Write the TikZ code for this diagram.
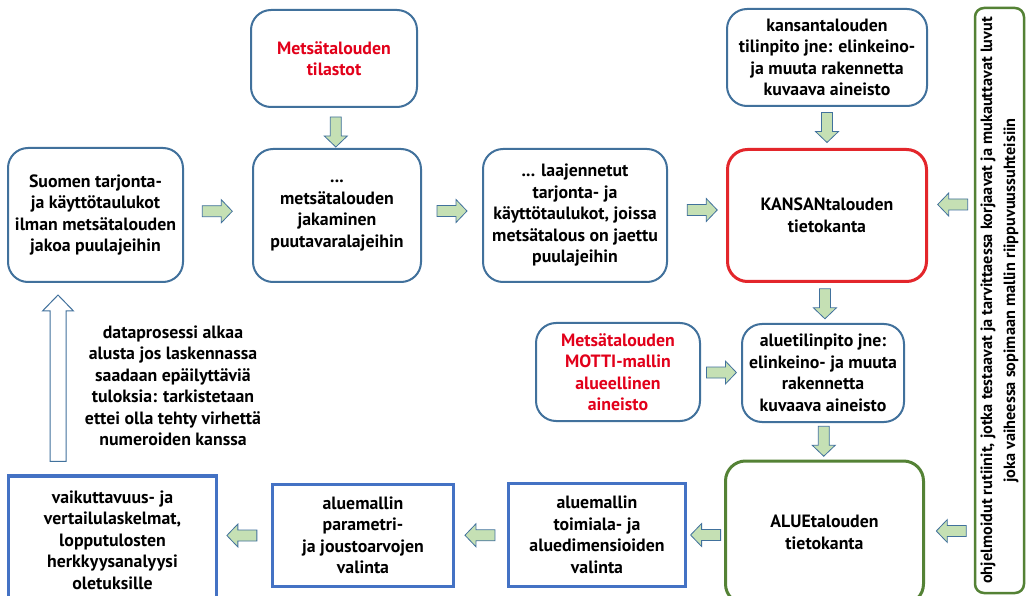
\documentclass[tikz,border=0pt]{standalone}
\usepackage{fontspec}
\setmainfont{PT Sans}
\usetikzlibrary{calc}
\definecolor{bblue}{HTML}{41719C}
\definecolor{sqblue}{HTML}{4472C4}
\definecolor{rred}{HTML}{E3262B}
\definecolor{rtext}{HTML}{E2001A}
\definecolor{ggreen}{HTML}{548235}
\definecolor{afill}{HTML}{C5E0B4}
\begin{document}
\begin{tikzpicture}[x=1pt,y=-1pt,
  font=\bfseries\fontsize{17.8}{21.5}\selectfont,
  rbox/.style={draw=bblue, line width=2pt, rounded corners=20pt, align=center, inner sep=0pt, fill=white},
  redbox/.style={rbox, draw=rred, line width=3pt},
  grbox/.style={rbox, draw=ggreen, line width=3pt},
  sqbox/.style={draw=sqblue, line width=3.4pt, align=center, inner sep=0pt, fill=white},
  redtext/.style={text=rtext},
  barrow/.pic={\draw[draw=bblue, fill=afill, line width=0.8pt, line join=miter]
     (-15,-5.5) -- (4,-5.5) -- (4,-11.5) -- (15,0) -- (4,11.5) -- (4,5.5) -- (-15,5.5) -- cycle;}
]
\useasboundingbox (0,0) rectangle (1029,596);
\clip (0,0) rectangle (1029,596);
\fill[white] (0,0) rectangle (1029,596);

% top row
\node[rbox, redtext, minimum width=166, minimum height=97] (tilastot) at (334,58.5) {Metsätalouden\\tilastot};
\node[rbox, minimum width=200, minimum height=97] (kansanai) at (827,57.5) {kansantalouden\\tilinpito jne: elinkeino-\\ja muuta rakennetta\\kuvaava aineisto};

% second row
\node[rbox, minimum width=175, minimum height=134] (suomen) at (95.5,215) {Suomen tarjonta-\\ja käyttötaulukot\\ilman metsätalouden\\jakoa puulajeihin};
\node[rbox, minimum width=168, minimum height=133] (jak) at (337,215.5) {...\\metsätalouden\\jakaminen\\puutavaralajeihin};
\node[rbox, minimum width=184, minimum height=133] (laaj) at (575,215.5) {... laajennetut\\tarjonta- ja\\käyttötaulukot, joissa\\metsätalous on jaettu\\puulajeihin};
\node[redbox, minimum width=199, minimum height=132] (kansan) at (827,215.5) {KANSANtalouden\\tietokanta};

% vertical box
\node[rbox, draw=ggreen, line width=2.5pt, rounded corners=9pt, rotate=90, minimum width=585, minimum height=49,
      font=\bfseries\fontsize{16.3}{23}\selectfont] (rutiinit) at (999.5,300.5)
  {ohjelmoidut rutiinit, jotka testaavat ja tarvittaessa korjaavat ja mukauttavat luvut\\joka vaiheessa sopimaan mallin riippuvuussuhteisiin};

% third row
\node[rbox, redtext, minimum width=164, minimum height=98] (motti) at (618,372) {Metsätalouden\\MOTTI-mallin\\alueellinen\\aineisto};
\node[rbox, minimum width=162, minimum height=98] (alueai) at (823,373) {aluetilinpito jne:\\elinkeino- ja muuta\\rakennetta\\kuvaava aineisto};

% bottom row
\node[grbox, minimum width=198, minimum height=143] (alue) at (824.5,532.5) {ALUEtalouden\\tietokanta};
\node[sqbox, minimum width=177, minimum height=103] (toimiala) at (597,535) {aluemallin\\toimiala- ja\\aluedimensioiden\\valinta};
\node[sqbox, minimum width=181, minimum height=102] (param) at (363,535.5) {aluemallin\\parametri-\\ja joustoarvojen\\valinta};
\node[sqbox, minimum width=208, minimum height=128] (vaik) at (112.5,540) {vaikuttavuus- ja\\vertailulaskelmat,\\lopputulosten\\herkkyysanalyysi\\oletuksille};

% free text
\node[align=center, inner sep=0pt] (dataproc) at (173,386) {dataprosessi alkaa\\alusta jos laskennassa\\saadaan epäilyttäviä\\tuloksia: tarkistetaan\\ettei olla tehty virhettä\\numeroiden kanssa};

% block arrows
\pic[rotate=-90] at ($(tilastot.south)!0.6!(jak.north)$) {barrow};
\pic at ($(suomen.east)!0.49!(jak.west)+(0,-4)$) {barrow};
\pic at ($(jak.east)!0.5!(laaj.west)+(0,-4.5)$) {barrow};
\pic at ($(laaj.east)!0.59!(kansan.west)+(0,-5.5)$) {barrow};
\pic[rotate=-90] at ($(kansanai.south)!0.5!(kansan.north)$) {barrow};
\pic[rotate=180] at ($(kansan.east)!0.54!(kansan.east -| rutiinit.north)+(0,-11)$) {barrow};
\pic[rotate=-90] at ($(kansan.south)!0.52!(alueai.north)$) {barrow};
\pic at ($(motti.east)!0.51!(alueai.west)$) {barrow};
\pic[rotate=-90] at ($(alueai.south)!0.5!(alue.north)$) {barrow};
\pic[rotate=180] at ($(alue.east)!0.54!(alue.east -| rutiinit.north)+(0,-1.5)$) {barrow};
\pic[rotate=180] at ($(toimiala.east)!0.5!(toimiala.east -| alue.west)$) {barrow};
\pic[rotate=180] at ($(param.east)!0.48!(toimiala.west)$) {barrow};
\pic[rotate=180] at ($(vaik.east |- param.east)!0.45!(param.west)$) {barrow};

% hollow return arrow
\coordinate (upbot) at (vaik.north -| 58,0);
\coordinate (uptop) at (suomen.south -| 58,0);
\draw[draw=bblue, fill=white, line width=1pt]
  ($(upbot)+(-8,-13)$) -- ($(uptop)+(-8,28)$) -- ($(uptop)+(-15.5,28)$) -- ($(uptop)+(0,12)$)
  -- ($(uptop)+(15.5,28)$) -- ($(uptop)+(8,28)$) -- ($(upbot)+(8,-13)$) -- cycle;
\end{tikzpicture}
\end{document}
